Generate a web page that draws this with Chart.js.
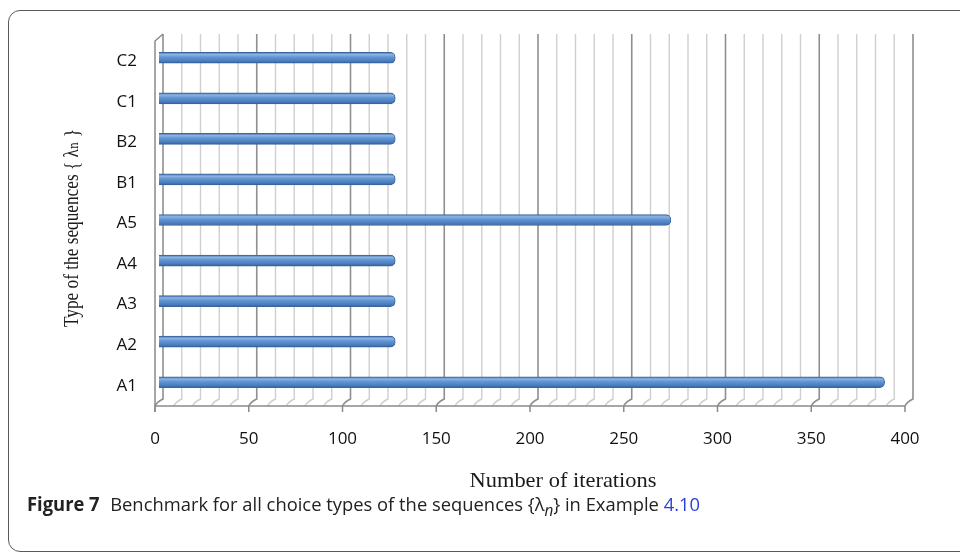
<!DOCTYPE html>
<html>
<head>
<meta charset="utf-8">
<script src="https://cdn.jsdelivr.net/npm/chart.js@4/dist/chart.umd.min.js"></script>
<style>
  html, body { margin: 0; padding: 0; background: #fff; }
  #wrap { position: relative; width: 960px; height: 556px; overflow: hidden; }
  #frame {
    position: absolute; left: 8px; top: 10px; width: 990px; height: 542px;
    border: 1.5px solid #5a5a5a; border-radius: 12px; box-sizing: border-box;
  }
  #chart { position: absolute; left: 0; top: 0; }
  #caption {
    position: absolute; left: 27px; top: 491px; white-space: nowrap;
    font-family: "Open Sans", sans-serif; font-size: 19px; color: #222;
    transform-origin: 0 50%;
  }
  #caption b { font-weight: bold; margin-right: 6px; }
  #caption .ref { color: #2a3fd6; }
</style>
</head>
<body>
<div id="wrap">
  <div id="frame"></div>
  <canvas id="chart" width="960" height="556"></canvas>
  <div id="caption"><b>Figure 7</b> Benchmark for all choice types of the sequences {λ<sub><i>n</i></sub>} in Example <span class="ref">4.10</span></div>
</div>
<script>
// Sequence types, bottom to top
const categories = ['A1', 'A2', 'A3', 'A4', 'A5', 'B1', 'B2', 'C1', 'C2'];
// Number of iterations for each sequence type
const iterations = [387, 126, 126, 126, 273, 126, 126, 126, 126];
// Value axis
const xMin = 0;
const xMax = 400;
const minorStep = 10;
const majorStep = 50;

const xTitle = 'Number of iterations';
const yTitle = 'Type of the sequences { λₙ }';

// Fake depth of the 3-D box (pixels)
const DX = 8, DY = 7;

// Back wall, floor and left wall of the 3-D box
const box3d = {
  id: 'box3d',
  beforeDatasetsDraw(chart) {
    const { ctx, chartArea: a, scales: { x } } = chart;
    ctx.save();
    for (let v = xMin; v <= xMax; v += minorStep) {
      const px = x.getPixelForValue(v);
      const major = v % majorStep === 0;
      ctx.strokeStyle = major ? '#8f8f8f' : '#cfcfcf';
      ctx.lineWidth = major ? 1.6 : 1.4;
      ctx.beginPath();
      ctx.moveTo(px + DX, a.top - DY);
      ctx.lineTo(px + DX, a.bottom - DY);
      ctx.quadraticCurveTo(px + DX * 0.25, a.bottom - DY * 0.6, px, a.bottom);
      ctx.stroke();
    }
    // front edge of the floor + ticks
    ctx.strokeStyle = '#8a8a8a';
    ctx.lineWidth = 1.5;
    ctx.beginPath();
    ctx.moveTo(a.left, a.bottom);
    ctx.lineTo(a.right, a.bottom);
    for (let v = xMin; v <= xMax; v += majorStep) {
      const px = x.getPixelForValue(v);
      ctx.moveTo(px, a.bottom);
      ctx.lineTo(px, a.bottom + 6);
    }
    ctx.stroke();
    // left wall
    ctx.strokeStyle = '#8a8a8a';
    ctx.beginPath();
    ctx.moveTo(a.left, a.bottom + 6);
    ctx.lineTo(a.left, a.top);
    ctx.lineTo(a.left + DX, a.top - DY);
    ctx.stroke();
    ctx.restore();
    // bars sit halfway into the box depth
    ctx.save();
    ctx.translate(DX / 2, -DY / 2);
  },
  afterDatasetsDraw(chart) {
    chart.ctx.restore();
  }
};

// Axis titles in a condensed serif face
const axisTitles = {
  id: 'axisTitles',
  afterDraw(chart) {
    const ctx = chart.ctx;
    ctx.save();
    ctx.fillStyle = '#1a1a1a';
    ctx.textAlign = 'center';
    ctx.textBaseline = 'middle';
    // x title
    ctx.font = '21px "Liberation Serif", "DejaVu Serif", serif';
    let w = ctx.measureText(xTitle).width;
    ctx.save();
    ctx.translate(563, 481);
    ctx.scale(187 / w, 1);
    ctx.fillText(xTitle, 0, 0);
    ctx.restore();
    // y title
    ctx.font = '22px "Liberation Serif", "DejaVu Serif", serif';
    w = ctx.measureText(yTitle).width;
    ctx.save();
    ctx.translate(72, 228);
    ctx.rotate(-Math.PI / 2);
    ctx.scale(198 / w, 1);
    ctx.fillText(yTitle, 0, 0);
    ctx.restore();
    ctx.restore();
  }
};

function barFill(c) {
  const ch = c.chart;
  const ys = ch.scales && ch.scales.y;
  if (!ys || c.type !== 'data') return '#4f81bd';
  const cy = ys.getPixelForValue(c.dataIndex);
  if (!Number.isFinite(cy)) return '#4f81bd';
  const g = ch.ctx.createLinearGradient(0, cy - 5.5, 0, cy + 5.5);
  g.addColorStop(0, '#4270ab');
  g.addColorStop(0.2, '#8cb3e3');
  g.addColorStop(0.45, '#6294d2');
  g.addColorStop(0.8, '#4a7dbd');
  g.addColorStop(1, '#315e98');
  return g;
}

new Chart(document.getElementById('chart'), {
  type: 'bar',
  data: {
    labels: categories,
    datasets: [{
      data: iterations,
      backgroundColor: barFill,
      borderColor: '#3a659d',
      borderWidth: 1,
      borderRadius: 5,
      barThickness: 11
    }]
  },
  options: {
    indexAxis: 'y',
    responsive: false,
    animation: false,
    devicePixelRatio: 1,
    layout: { padding: { left: 0, right: 55, top: 41, bottom: 0 } },
    plugins: { legend: { display: false }, tooltip: { enabled: false } },
    scales: {
      x: {
        min: xMin,
        max: xMax,
        grid: { display: false, drawTicks: false },
        border: { display: false },
        afterFit(s) { s.height = 150; },
        ticks: {
          stepSize: minorStep,
          autoSkip: false,
          maxRotation: 0,
          padding: 23,
          color: '#111',
          font: { family: '"Open Sans", sans-serif', size: 17 },
          callback: (v) => (v % majorStep === 0 ? String(v) : '')
        }
      },
      y: {
        reverse: true,
        grid: { display: false, drawTicks: false },
        border: { display: false },
        afterFit(s) { s.width = 155; },
        ticks: {
          padding: 18,
          color: '#111',
          font: { family: '"Open Sans", sans-serif', size: 17 }
        }
      }
    }
  },
  plugins: [box3d, axisTitles]
});

// fit caption to its line width
const cap = document.getElementById('caption');
const cw = cap.getBoundingClientRect().width;
cap.style.transform = 'scaleX(' + (673 / cw) + ')';
</script>
</body>
</html>
